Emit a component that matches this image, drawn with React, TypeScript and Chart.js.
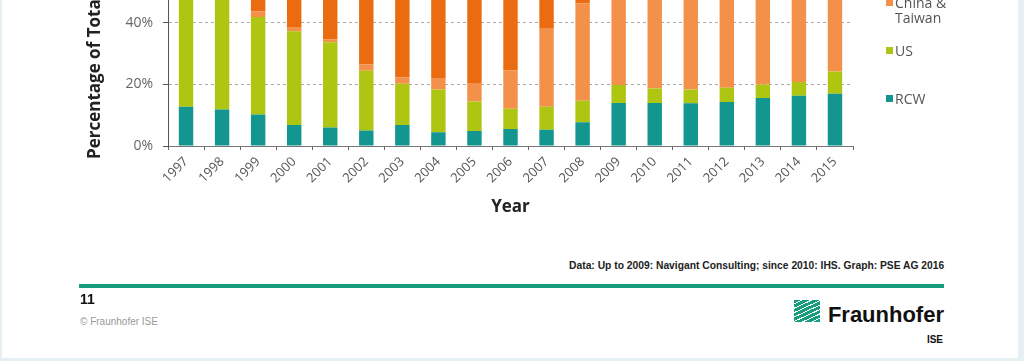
import React, { useEffect, useRef } from "react";
import { Chart, registerables } from "chart.js";

Chart.register(...registerables);

const years = ["1997", "1998", "1999", "2000", "2001", "2002", "2003", "2004", "2005", "2006", "2007", "2008", "2009", "2010", "2011", "2012", "2013", "2014", "2015"];
const rcw = [12.8, 11.9, 10.2, 6.8, 6.0, 5.0, 6.8, 4.5, 4.9, 5.5, 5.3, 7.7, 14.0, 14.0, 13.9, 14.3, 15.6, 16.3, 17.0];
const us = [38.0, 37.0, 31.7, 30.5, 27.7, 19.5, 13.4, 13.9, 9.6, 6.6, 7.5, 7.0, 5.8, 4.7, 4.5, 4.6, 4.4, 4.5, 7.2];
const chinaTaiwan = [1.0, 1.0, 1.9, 1.4, 1.0, 2.0, 2.1, 3.5, 5.7, 12.5, 25.6, 31.6, 55.0, 63.0, 67.0, 68.0, 67.0, 68.0, 67.0];
const japan = [29.0, 30.0, 35.0, 40.0, 43.0, 45.0, 47.0, 49.0, 45.0, 37.0, 25.0, 17.0, 12.0, 9.0, 7.0, 6.0, 8.0, 8.0, 6.0];
const europe = [19.2, 20.1, 21.2, 21.3, 22.3, 28.5, 30.7, 29.1, 34.8, 38.4, 36.6, 36.7, 13.2, 9.3, 7.6, 7.1, 5.0, 3.2, 2.8];

const seriesNames = ["RCW", "US", "China & Taiwan", "Japan", "Europe"];
const seriesColors = ["#12968F", "#AEC512", "#F3914B", "#EB6C10", "#1F5A96"];
const seriesData = [rcw, us, chinaTaiwan, japan, europe];

const yAxisTitle = "Percentage of Total MWp Produced";
const xAxisTitle = "Year";
const sourceText = "Data: Up to 2009: Navigant Consulting; since 2010: IHS. Graph: PSE AG 2016";

const FONT = "'Open Sans', 'Noto Sans', sans-serif";
const ARIAL = "'Liberation Sans', Arial, sans-serif";

export default function App() {
  const canvasRef = useRef<HTMLCanvasElement | null>(null);

  useEffect(() => {
    const canvas = canvasRef.current;
    if (!canvas) return;
    const chart = new Chart(canvas, {
      type: "bar",
      data: {
        labels: years,
        datasets: seriesNames.map((name, i) => ({
          label: name,
          data: seriesData[i],
          backgroundColor: seriesColors[i],
          borderWidth: 0,
          barPercentage: 0.4,
          categoryPercentage: 1.0,
        })),
      },
      options: {
        responsive: false,
        animation: false,
        devicePixelRatio: 1,
        layout: { padding: { left: 108, right: 171, top: 9, bottom: 3 } },
        plugins: { legend: { display: false }, tooltip: { enabled: false } },
        scales: {
          x: {
            stacked: true,
            grid: {
              display: true,
              drawOnChartArea: false,
              offset: true,
              tickLength: 4,
              color: "#666",
              tickColor: "#666",
            },
            border: { display: true, color: "#777", width: 1 },
            ticks: {
              autoSkip: false,
              minRotation: 45,
              maxRotation: 45,
              padding: 4,
              color: "#555",
              font: { family: FONT, size: 13 },
            },
            title: {
              display: true,
              text: xAxisTitle,
              color: "#222",
              padding: 0,
              font: { family: FONT, size: 17, weight: "bold" },
            },
            afterFit: (s: any) => {
              s.height = 71;
            },
          },
          y: {
            stacked: true,
            min: 0,
            max: 100,
            grid: {
              display: true,
              color: "#aaa",
              lineWidth: 1,
              tickLength: 5,
              tickColor: "#555",
            },
            border: { display: true, color: "#555", width: 1, dash: [3, 3] },
            ticks: {
              stepSize: 20,
              padding: 10,
              color: "#666",
              font: { family: FONT, size: 14 },
              callback: (v: any) => v + "%",
            },
            title: { display: false },
            afterFit: (s: any) => {
              s.width = 60;
            },
          },
        },
      },
    });
    return () => chart.destroy();
  }, []);

  return (
    <div
      style={{
        position: "fixed",
        left: 0,
        top: 0,
        width: 1024,
        height: 361,
        overflow: "hidden",
        background: "#E6EFF4",
        fontFamily: FONT,
      }}
    >
      <div
        style={{
          position: "absolute",
          left: 2,
          top: 0,
          width: 1016,
          height: 358,
          background: "#FFFFFF",
        }}
      />
      <div style={{ position: "absolute", left: 0, top: -180, width: 1024, height: 400 }}>
        <canvas ref={canvasRef} width={1024} height={400} style={{ width: 1024, height: 400, display: "block" }} />
      </div>

      {/* y axis title */}
      <div
        style={{
          position: "absolute",
          left: 94,
          top: 159,
          transform: "rotate(-90deg)",
          transformOrigin: "0 0",
          whiteSpace: "nowrap",
          fontSize: 17,
          fontWeight: "bold",
          color: "#222",
          lineHeight: "20px",
        }}
      >
        <div style={{ transform: "translateY(-10px)" }}>{yAxisTitle}</div>
      </div>

      {/* legend */}
      {seriesNames.map((name, i) => (
        <div
          key={name}
          style={{
            position: "absolute",
            left: 886,
            top: 98 - i * 48 - 7,
            display: "flex",
            alignItems: "flex-start",
          }}
        >
          <div style={{ width: 7, height: 7, background: seriesColors[i], marginTop: 4, marginRight: 2 }} />
          <div style={{ width: 70, fontSize: 14, lineHeight: "15px", color: "#555" }}>{name}</div>
        </div>
      ))}

      {/* footer */}
      <div
        style={{
          position: "absolute",
          right: 1024 - 944,
          top: 259,
          fontFamily: ARIAL,
          fontWeight: "bold",
          fontSize: 11,
          color: "#222",
          whiteSpace: "nowrap",
          transform: "scaleX(0.935)",
          transformOrigin: "100% 50%",
        }}
      >
        {sourceText}
      </div>
      <div style={{ position: "absolute", left: 79, top: 284, width: 865, height: 4, background: "#179C7D" }} />
      <div
        style={{
          position: "absolute",
          left: 80,
          top: 291,
          fontFamily: ARIAL,
          fontWeight: "bold",
          fontSize: 14,
          color: "#111",
        }}
      >
        11
      </div>
      <div
        style={{
          position: "absolute",
          left: 80,
          top: 316,
          fontFamily: ARIAL,
          fontSize: 10,
          color: "#999",
          whiteSpace: "nowrap",
        }}
      >
        © Fraunhofer ISE
      </div>
      <div
        style={{
          position: "absolute",
          left: 794,
          top: 300,
          width: 26,
          height: 22,
          background:
            "repeating-linear-gradient(155deg, #179C7D 0px, #179C7D 3px, #ffffff 3px, #ffffff 4px)",
        }}
      />
      <div
        style={{
          position: "absolute",
          right: 1024 - 944,
          top: 302,
          fontFamily: ARIAL,
          fontWeight: "bold",
          fontSize: 22,
          lineHeight: "26px",
          color: "#111",
          whiteSpace: "nowrap",
        }}
      >
        Fraunhofer
      </div>
      <div
        style={{
          position: "absolute",
          right: 1024 - 943,
          top: 334,
          fontFamily: ARIAL,
          fontWeight: "bold",
          fontSize: 10,
          color: "#111",
        }}
      >
        ISE
      </div>
    </div>
  );
}
